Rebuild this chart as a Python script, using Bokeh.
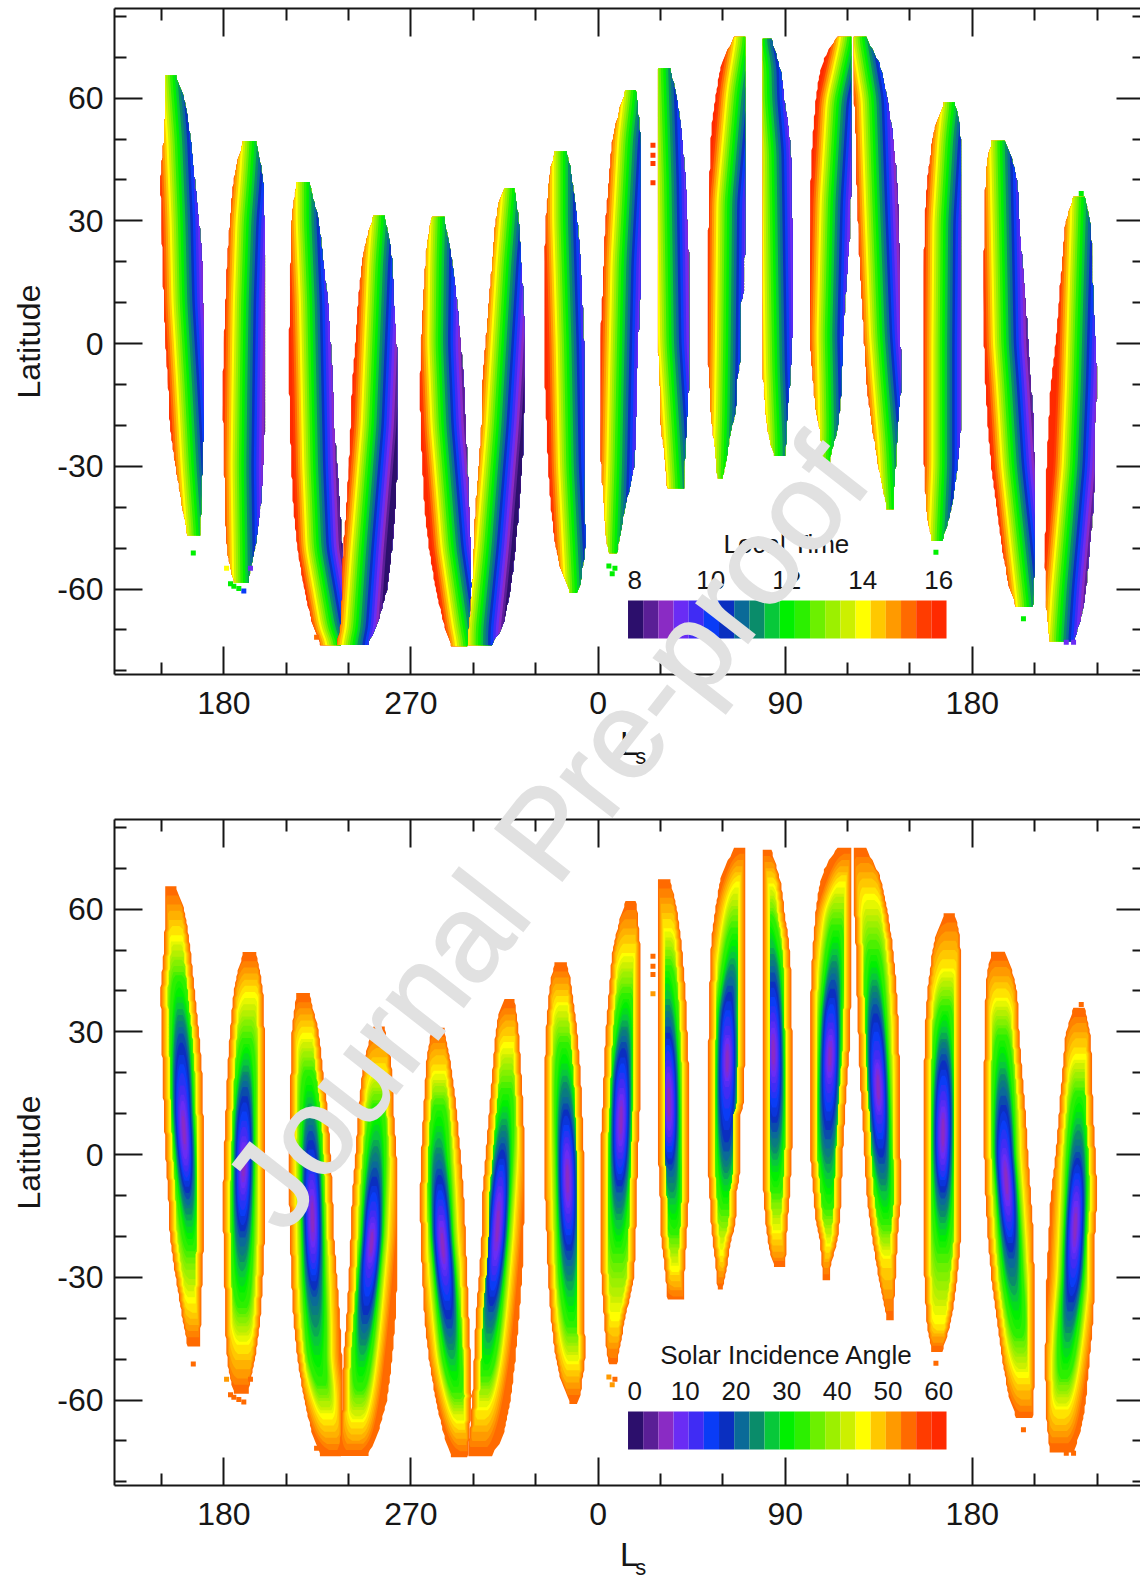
import numpy as np
from bokeh.plotting import figure
from bokeh.layouts import column
from bokeh.models import FixedTicker, LinearAxis, Div
from bokeh.core.properties import value
from bokeh.embed import file_html
from bokeh.resources import INLINE

# ---- colour scale, dark (8 h / 0 deg) to red (16 h / 60 deg) ----
band_colors = ["#2c0f6c", "#5a1f96", "#8a2bc4", "#6a2cf4", "#402cf4", "#0a3cf6", "#0a2fc0",
               "#0a6a98", "#0a8c6a", "#08c83a", "#00f000", "#2cf000", "#6cf000", "#9cf000",
               "#ccf000", "#ffff00", "#ffc800", "#ff9a00", "#ff6a00", "#ff3c00", "#ff2a00"]
time_ticks = ["8", "10", "12", "14", "16"]
angle_ticks = ["0", "10", "20", "30", "40", "50", "60"]

# ---- axes ----
ls_major = [180, 270, 360, 450, 540]
ls_labels = {180: "180", 270: "270", 360: "0", 450: "90", 540: "180"}
ls_minor = [150, 210, 240, 300, 330, 390, 420, 480, 510, 570, 600]
lat_major = [-60, -30, 0, 30, 60]
lat_labels = {-60: "-60", -30: "-30", 0: "0", 30: "30", 60: "60"}
lat_minor = [-80, -70, -50, -40, -20, -10, 10, 20, 40, 50, 70, 80]

# ---- swaths: latitude row, left and right Ls edge (unrolled Ls) ----
lat01 = [65.6, 60, 50, 40, 30, 20, 10, 0, -10, -20, -30, -40, -47]
left01 = [151.9, 151.9, 151.1, 149.5, 150.0, 150.5, 151.1, 151.9, 153.2, 153.9, 156.8, 160.0, 162.7]
right01 = [156.3, 161.2, 164.0, 166.0, 168.0, 169.6, 170.1, 170.4, 170.4, 170.4, 169.6, 169.1, 168.5]
lat02 = [49.5, 45, 40, 30, 20, 10, 0, -10, -20, -30, -40, -50, -55, -59]
left02 = [189.6, 186.7, 184.8, 182.9, 181.6, 180.8, 180.0, 179.5, 179.7, 180.3, 180.3, 181.6, 182.9, 185.6]
right02 = [195.2, 197.3, 198.9, 199.6, 199.7, 199.7, 199.7, 199.7, 199.7, 198.9, 197.6, 195.2, 192.8, 191.2]
lat03 = [39.5, 35, 30, 20, 10, 0, -10, -20, -30, -40, -50, -60, -70, -74]
left03 = [215.3, 213.7, 212.6, 212.1, 211.8, 211.3, 211.4, 211.8, 212.4, 213.4, 215.3, 218.5, 223.3, 227.3]
right03 = [220.9, 223.3, 225.7, 227.8, 230.2, 231.3, 232.4, 232.9, 234.5, 235.8, 236.9, 236.9, 236.9, 236.1]
lat04 = [31.3, 25, 20, 10, 0, -10, -20, -30, -40, -50, -60, -70, -74]
left04 = [252.2, 248.2, 246.5, 244.6, 243.3, 241.7, 241.0, 240.1, 239.0, 237.4, 236.9, 236.1, 233.7]
right04 = [257.0, 259.9, 261.0, 261.8, 263.1, 263.4, 263.4, 263.4, 262.6, 261.0, 258.6, 253.0, 248.2]
lat05 = [31, 25, 20, 10, 0, -10, -20, -30, -40, -50, -60, -70, -74]
left05 = [280.2, 277.8, 277.0, 275.9, 274.9, 274.3, 274.6, 275.4, 276.5, 278.6, 281.8, 286.6, 289.8]
right05 = [285.8, 288.2, 289.8, 292.2, 293.9, 295.5, 296.3, 297.1, 297.9, 298.7, 299.2, 297.9, 297.1]
lat06 = [38, 35, 30, 20, 10, 0, -10, -20, -30, -40, -50, -60, -70, -74]
left06 = [315.5, 312.3, 310.7, 309.1, 307.5, 305.9, 304.3, 304.0, 302.7, 301.1, 300.3, 299.5, 297.9, 297.1]
right06 = [319.5, 320.8, 321.9, 323.0, 324.3, 324.3, 324.3, 324.3, 323.5, 321.9, 320.3, 317.9, 313.9, 307.5]
lat07 = [47, 45, 40, 30, 20, 10, 0, -10, -20, -30, -40, -50, -55, -60, -61]
left07 = [339.6, 338.0, 336.4, 334.8, 334.3, 334.3, 334.0, 334.4, 335.2, 335.9, 337.2, 339.6, 341.9, 346.0, 346.8]
right07 = [344.4, 346.0, 347.6, 350.0, 351.6, 352.4, 353.2, 353.5, 353.5, 353.5, 353.5, 354.0, 352.4, 351.6, 348.4]
lat08 = [62, 60, 50, 40, 30, 20, 10, 0, -10, -20, -30, -40, -50, -51.6]
left08 = [374.0, 371.6, 366.8, 365.2, 363.6, 362.8, 362.0, 360.9, 361.0, 361.0, 361.5, 362.8, 364.4, 366.2]
right08 = [378.0, 378.8, 380.4, 380.4, 380.4, 380.4, 380.1, 379.2, 378.7, 378.2, 377.4, 373.1, 369.5, 368.7]
lat09 = [67.3, 65, 60, 50, 40, 30, 20, 10, 0, -10, -20, -30, -36]
left09 = [388.9, 388.9, 388.9, 388.9, 388.9, 388.9, 388.9, 388.9, 388.9, 389.7, 390.2, 392.5, 393.6]
right09 = [394.1, 395.7, 398.1, 400.5, 402.1, 402.9, 403.7, 404.0, 404.0, 403.7, 402.7, 401.5, 401.5]
lat10 = [75, 71.8, 67.7, 62, 54.6, 49.7, 35, 18.7, 11.4, 10.8, 0.8, -5.7, -9, -17, -21, -28.4, -33.3]
left10 = [426.2, 422.1, 418.9, 417.0, 414.9, 414.1, 413.3, 412.8, 412.8, 412.8, 412.8, 413.0, 413.5, 414.3, 415.1, 416.8, 417.6]
right10 = [430.5, 430.5, 430.5, 430.5, 430.5, 430.5, 430.5, 430.5, 430.2, 428.2, 428.2, 428.2, 426.6, 426.3, 423.7, 422.0, 419.4]
lat11 = [74.5, 70, 65, 60, 52, 44, 27, 2, -9, -17, -25, -28]
left11 = [439.4, 439.4, 439.4, 439.4, 439.4, 439.4, 439.4, 439.4, 439.4, 440.6, 442.7, 446.0]
right11 = [443.0, 446.2, 448.6, 449.4, 451.8, 452.9, 453.4, 453.4, 452.4, 451.1, 450.3, 449.9]
lat12 = [75, 73.4, 70, 65, 59.5, 45, 27, 18.7, 2, -9, -14, -17, -21, -27, -31]
left12 = [476.7, 472.6, 468.7, 466.2, 464.6, 462.5, 461.7, 461.7, 461.7, 463.4, 464.2, 464.9, 466.7, 467.5, 468.5]
right12 = [481.8, 481.8, 481.8, 481.8, 481.8, 481.8, 481.2, 479.9, 477.9, 477.0, 476.7, 476.2, 475.2, 471.9, 471.1]
lat13 = [75, 72, 68, 60, 52, 44, 35, 19, 2, -9, -17, -25, -33, -39, -41]
left13 = [483.1, 483.1, 483.1, 483.1, 483.9, 484.2, 484.7, 485.9, 487.9, 489.0, 490.8, 493.3, 495.9, 498.5, 498.9]
right13 = [487.9, 491.9, 495.9, 499.1, 501.5, 503.1, 504.3, 505.2, 505.2, 506.2, 504.6, 503.6, 502.8, 502.0, 502.3]
lat14 = [59, 55, 50, 40, 30, 20, 0, -10, -20, -30, -40, -45, -48.5]
left14 = [527.2, 523.2, 520.8, 518.4, 517.1, 516.8, 516.8, 516.8, 516.4, 516.9, 517.8, 519.2, 520.8]
right14 = [531.2, 533.6, 534.4, 534.4, 534.4, 534.4, 534.4, 534.4, 534.6, 532.8, 530.2, 527.7, 525.1]
lat15 = [49.6, 45, 40, 30, 20, 10, 0, -10, -20, -30, -40, -50, -60, -65]
left15 = [549.6, 547.2, 546.4, 545.9, 545.6, 545.6, 545.6, 546.3, 547.4, 549.1, 551.7, 554.3, 557.8, 562.1]
right15 = [555.2, 559.2, 561.7, 562.5, 564.0, 565.7, 566.8, 568.2, 569.5, 569.8, 570.2, 570.2, 569.5, 568.9]
lat16 = [35.9, 30, 20, 14, 10, 0, -10, -20, -30, -40, -50, -60, -66, -73]
left16 = [588.9, 584.9, 583.3, 582.2, 581.7, 580.1, 577.7, 576.7, 575.7, 575.4, 574.9, 575.3, 575.7, 577.5]
right16 = [593.7, 596.9, 597.7, 597.9, 598.2, 599.3, 600.1, 599.0, 599.0, 598.2, 596.5, 594.7, 592.9, 588.7]

# ---- middle of the bright green stripe (about local noon) on each swath ----
noonlat01 = [65.6, 50, 30, 10, -10, -30, -47]
noon01 = [154.0, 156.3, 157.9, 158.8, 161.1, 163.2, 165.6]
noonlat02 = [49.5, 40, 30, 10, -10, -30, -59]
noon02 = [192.4, 191.2, 189.6, 188.3, 187.7, 187.2, 188.0]
noonlat03 = [39.5, 30, 10, -10, -30, -50, -70, -74]
noon03 = [218.5, 218.5, 220.1, 220.9, 221.7, 223.3, 230.2, 233.7]
noonlat04 = [31, 20, 0, -20, -50, -70, -74]
noon04 = [254.6, 253.0, 251.4, 249.8, 244.9, 242.1, 240.1]
noonlat05 = [31, 20, 0, -20, -50, -70, -74]
noon05 = [282.9, 282.3, 281.8, 283.4, 288.2, 293.9, 295.5]
noonlat06 = [38, 20, 0, -20, -50, -70]
noon06 = [317.6, 314.7, 312.3, 309.9, 305.1, 301.1]
noonlat07 = [47, 30, 0, -30, -60]
noon07 = [341.9, 341.9, 343.6, 344.7, 347.6]
noonlat08 = [62, 50, 20, -10, -30, -50]
noon08 = [375.9, 373.2, 370.0, 368.7, 367.9, 366.6]
noonlat09 = [67.3, 40, 0, -20, -36]
noon09 = [390.1, 391.7, 392.9, 395.4, 397.3]
noonlat10 = [75, 62, 35, 1, -17, -33]
noon10 = [429.8, 425.7, 420.9, 420.2, 419.7, 418.9]
noonlat11 = [74.5, 67.7, 60, 47, 18.7, -6, -25]
noon11 = [437.4, 439.8, 440.1, 442.2, 443.0, 443.8, 445.2]
noonlat12 = [75, 65, 59.5, 35, 2, -9, -21, -31]
noon12 = [480.2, 475.9, 473.5, 470.6, 469.0, 469.5, 469.9, 469.5]
noonlat13 = [75, 60, 35, 2, -9, -25, -41]
noon13 = [485.5, 490.3, 491.9, 494.3, 495.9, 498.5, 500.1]
noonlat14 = [59, 50, 30, 0, -30, -48]
noon14 = [529.1, 527.2, 524.8, 524.3, 524.3, 522.8]
noonlat15 = [49.6, 30, 0, -9, -30, -50, -65]
noon15 = [552.0, 552.8, 553.9, 555.2, 557.8, 562.0, 565.2]
noonlat16 = [36.5, 10, -10, -30, -60, -73]
noon16 = [591.3, 589.7, 588.6, 587.0, 581.8, 580.1]

# ---- latitude reached by each colour of the incidence panel, swath by swath ----
yellow_top = [54, 40, 30, 21, 21, 28, 38, 50, 56, 67, 67, 67, 64, 46, 39, 25]
yellow_bot = [-37, -47, -65, -66, -66, -63, -52, -41, -29, -25, -20, -23, -26, -42, -55, -63]
green_top = [44, 29, 21, 13, 13, 17, 28, 40, 47, 56, 59, 57, 51, 37, 30, 16]
green_bot = [-24, -38, -57, -58, -59, -55, -43, -25, -20, -14, -10, -14, -18, -25, -45, -55]
blue_top = [30, 17, 6, -3, -3, 3, 13, 28, 32, 42, 45, 43, 37, 25, 15, 1]
blue_bot = [-11, -21, -35, -42, -43, -39, -26, -10, -4, 0, 5, 3, -3, -11, -26, -39]
violet_top = [15, 5, -6, -15, -14, -7, 3, 17, 22, 30, 33, 31, 24, 14, 2, -9]
violet_bot = [-3, -10, -25, -28, -30, -28, -15, 0, 4, 16, 17, 17, 9, -3, -15, -26]
# colour index of those levels and their half width in Ls at mid height
level_index = [1.8, 3.5, 6.5, 11, 15, 18]
level_halfwidth = [0.5, 2.2, 4.0, 5.6, 8.0, 12.0]
core_fraction = 0.35
band_width_warm = 1.0
band_width_cool = 1.2
center_shift_ls = 1.5
edge_inset_ls = 0.9
edge_inset_max = 3.6
edge_cell_ls = 0.6

# ---- isolated cells outside the swaths ----
stray_ls = [386.4, 386.4, 386.4, 386.4, 165.3, 181.3, 192.8, 183.2, 184.8, 187.2, 189.6, 224.6,
            365.2, 368.1, 366.8, 522.5, 564.6, 592.4, 585.2, 588.7]
stray_lat = [48.5, 46.0, 44.0, 39.3, -51.2, -54.9, -54.9, -58.7, -59.3, -59.9, -60.5, -71.8,
             -54.4, -54.9, -56.3, -51.0, -67.3, 36.7, -73.0, -73.0]
stray_band = [19, 19, 19, 19, 10, 15, 3, 10, 10, 10, 5, 18, 10, 10, 10, 10, 10, 10, 3, 3]
stray_band_lower = [18, 18, 18, 17, 18, 17, 18, 18, 18, 18, 18, 18, 17, 18, 17, 18, 18, 18, 18, 18]

swaths = [(lat01, left01, right01, noonlat01, noon01), (lat02, left02, right02, noonlat02, noon02),
          (lat03, left03, right03, noonlat03, noon03), (lat04, left04, right04, noonlat04, noon04),
          (lat05, left05, right05, noonlat05, noon05), (lat06, left06, right06, noonlat06, noon06),
          (lat07, left07, right07, noonlat07, noon07), (lat08, left08, right08, noonlat08, noon08),
          (lat09, left09, right09, noonlat09, noon09), (lat10, left10, right10, noonlat10, noon10),
          (lat11, left11, right11, noonlat11, noon11), (lat12, left12, right12, noonlat12, noon12),
          (lat13, left13, right13, noonlat13, noon13), (lat14, left14, right14, noonlat14, noon14),
          (lat15, left15, right15, noonlat15, noon15), (lat16, left16, right16, noonlat16, noon16)]

FONT = "Liberation Sans"
INK = "#161616"
ROW_STEP = 0.75


def at(lat, table_lat, table_val):
    # rounds the corners of the read polyline, for drawing only
    vals = np.interp(lat, table_lat[::-1], table_val[::-1])
    kernel = np.ones(5) / 5
    for _ in range(2):
        vals = np.convolve(np.pad(vals, 2, mode="edge"), kernel, mode="valid")
    return vals


def edge_rows(lat, left, right, rows):
    # the reference edge is made of coarse cells
    l_row = np.floor(at(rows, lat, left) / edge_cell_ls + 0.5) * edge_cell_ls
    r_row = np.floor(at(rows, lat, right) / edge_cell_ls + 0.5) * edge_cell_ls
    return l_row, r_row


def blend(a, b):
    ca = [int(a[i:i + 2], 16) for i in (1, 3, 5)]
    cb = [int(b[i:i + 2], 16) for i in (1, 3, 5)]
    return "#%02x%02x%02x" % tuple((x + y) // 2 for x, y in zip(ca, cb))


def level_color(level):
    lo = int(np.floor(level))
    return band_colors[lo] if level == lo else blend(band_colors[lo], band_colors[lo + 1])


def local_time_polygons():
    xs, ys, colors = [], [], []
    for lat, left, right, nlat, noon in swaths:
        rows = np.arange(lat[0], lat[-1] - 0.01, -ROW_STEP)
        l_row, r_row = edge_rows(lat, left, right, rows)
        mid = at(rows, nlat, noon)
        for idx in range(20, -1, -1):
            width = band_width_warm if idx >= 11 else band_width_cool
            edge = np.minimum(np.maximum(l_row, mid + (11 - idx) * width), r_row)
            if idx == 20:
                edge = l_row
            xs.append(list(np.round(edge, 2)) + list(np.round(r_row[::-1], 2)))
            ys.append(list(rows) + list(rows[::-1]))
            colors.append(band_colors[idx])
    return xs, ys, colors


def incidence_polygons():
    xs, ys, colors = [], [], []
    for n, (lat, left, right, nlat, noon) in enumerate(swaths):
        rows = np.arange(lat[0], lat[-1] - 0.01, -ROW_STEP)
        l_row, r_row = edge_rows(lat, left, right, rows)
        c_row = at(rows, nlat, noon) + center_shift_ls
        xs.append(list(np.round(l_row, 2)) + list(np.round(r_row[::-1], 2)))
        ys.append(list(rows) + list(rows[::-1]))
        colors.append(band_colors[18])
        mid_lat = (violet_top[n] + violet_bot[n]) / 2
        core_half = (violet_top[n] - violet_bot[n]) / 2 * core_fraction
        tops = [mid_lat + core_half, violet_top[n], blue_top[n], green_top[n], yellow_top[n], lat[0]]
        bots = [mid_lat - core_half, violet_bot[n], blue_bot[n], green_bot[n], yellow_bot[n], lat[-1]]
        for level in np.arange(17.5, 1.5, -0.5):
            top = np.interp(level, level_index, tops)
            bot = np.interp(level, level_index, bots)
            half = np.interp(level, level_index, level_halfwidth)
            u = (rows - (top + bot) / 2) / ((top - bot) / 2)
            keep = np.abs(u) < 1
            if keep.sum() < 2:
                continue
            power = 3.2 if level >= 11 else 2.2
            w = half * (1 - np.abs(u[keep]) ** power) ** (1 / power)
            inset = min((18 - level) * edge_inset_ls, edge_inset_max)
            a = np.maximum(c_row[keep] - w, l_row[keep] + inset)
            b = np.minimum(c_row[keep] + w, r_row[keep] - inset)
            b = np.maximum(a, b)
            xs.append(list(np.round(a, 2)) + list(np.round(b[::-1], 2)))
            ys.append(list(rows[keep]) + list(rows[keep][::-1]))
            colors.append(level_color(level))
    return xs, ys, colors


def panel(height, border_bottom, polygons, strays, title, ticks):
    p = figure(width=1140, height=height, x_range=(127.4, 620.9), y_range=(-80.9, 81.9),
               output_backend="svg", toolbar_location=None, min_border_left=114,
               min_border_right=0, min_border_top=8, min_border_bottom=border_bottom,
               x_axis_type=None, y_axis_type=None, background_fill_color="white",
               border_fill_color=None, outline_line_color=None)
    p.grid.visible = False
    style = dict(axis_line_color=INK, axis_line_width=2, major_tick_line_color=INK, major_tick_line_width=2,
                 minor_tick_line_color=INK, minor_tick_line_width=2, major_tick_out=0, minor_tick_out=0)
    x_tick = FixedTicker(ticks=ls_major, minor_ticks=ls_minor)
    y_tick = FixedTicker(ticks=lat_major, minor_ticks=lat_minor)
    bottom = LinearAxis(ticker=x_tick, major_label_overrides=ls_labels, major_tick_in=28, minor_tick_in=12,
                        major_label_text_font=FONT, major_label_text_font_size="32px",
                        major_label_text_color=INK, major_label_standoff=17, **style)
    left_ax = LinearAxis(ticker=y_tick, major_label_overrides=lat_labels, major_tick_in=28, minor_tick_in=12,
                         major_label_text_font=FONT, major_label_text_font_size="32px",
                         major_label_text_color=INK, major_label_standoff=11,
                         axis_label="Latitude", axis_label_text_font=FONT, axis_label_text_font_size="32px",
                         axis_label_text_font_style="normal", axis_label_text_color=INK,
                         axis_label_standoff=7, **style)
    top_ax = LinearAxis(ticker=x_tick, major_tick_in=28, minor_tick_in=12, major_label_text_font_size="1px",
                        major_label_text_color=None, major_label_standoff=0, **style)
    right_ax = LinearAxis(ticker=y_tick, major_tick_in=24, minor_tick_in=8, major_label_text_font_size="1px",
                          major_label_text_color=None, major_label_standoff=0,
                          **{**style, "axis_line_color": None})
    p.add_layout(bottom, "below")
    p.add_layout(left_ax, "left")
    p.add_layout(top_ax, "above")
    p.add_layout(right_ax, "right")

    xs, ys, colors = polygons
    p.patches(xs, ys, fill_color=colors, line_color=None)
    p.scatter(stray_ls, stray_lat, marker="square", size=5, fill_color=[band_colors[i] for i in strays],
              line_color=None)

    # colour bar
    edges = np.linspace(374.4, 527.6, len(band_colors) + 1)
    p.quad(left=edges[:-1], right=edges[1:], bottom=-72.1, top=-62.8, fill_color=band_colors, line_color=None)
    tick_x = np.linspace(377.6, 523.8, len(ticks))
    p.text(tick_x, [-57.7] * len(ticks), text=ticks, text_font=value(FONT), text_font_size="26px",
           text_align="center", text_baseline="middle", text_color=INK)
    p.text([450.7], [-49.1], text=[title], text_font=value(FONT), text_font_size="26px",
           text_align="center", text_baseline="middle", text_color=INK)
    return p


def ls_label(top):
    return Div(text="L<span style='font-size:22px;vertical-align:-9px;margin-left:-3px'>s</span>",
               styles={"position": "absolute", "left": "615px", "top": "%dpx" % top, "z-index": "10",
                       "font-family": FONT, "font-size": "33px", "line-height": "33px", "color": INK,
                       "white-space": "nowrap"})


p1 = panel(811, 137, local_time_polygons(), stray_band, "Local Time", time_ticks)
p2 = panel(764, 90, incidence_polygons(), stray_band_lower, "Solar Incidence Angle", angle_ticks)

mark = Div(text="Journal Pre-proof",
           styles={"position": "absolute", "left": "541px", "top": "828px", "z-index": "20",
                   "font-family": FONT, "font-size": "124px", "color": "#e1e1e1", "white-space": "nowrap",
                   "-webkit-text-stroke": "1.5px #e1e1e1",
                   "transform": "translate(-50%, -50%) rotate(-52deg)", "pointer-events": "none"})

page = column(p1, p2, ls_label(722), ls_label(1533), mark, spacing=0)
open("out.html", "w").write(file_html(page, INLINE))
